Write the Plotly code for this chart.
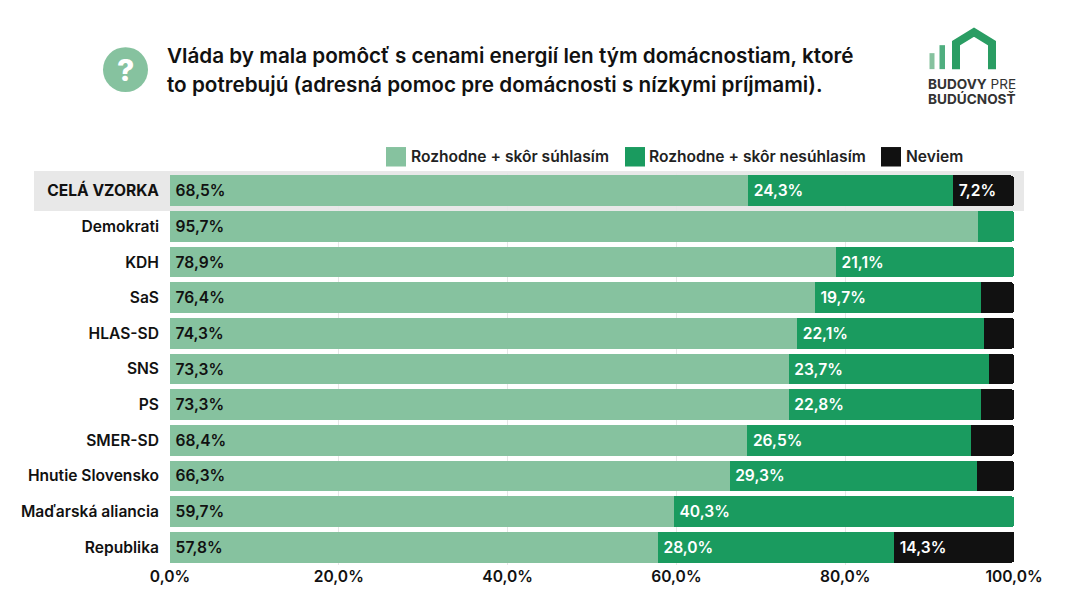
import plotly.graph_objects as go

categories = ["CELÁ VZORKA", "Demokrati", "KDH", "SaS", "HLAS-SD", "SNS", "PS", "SMER-SD",
              "Hnutie Slovensko", "Maďarská aliancia", "Republika"]
agree = [68.5, 95.7, 78.9, 76.4, 74.3, 73.3, 73.3, 68.4, 66.3, 59.7, 57.8]
disagree = [24.3, 4.3, 21.1, 19.7, 22.1, 23.7, 22.8, 26.5, 29.3, 40.3, 28.0]
unknown = [7.2, 0, 0, 3.9, 3.6, 3.0, 3.9, 5.1, 4.4, 0, 14.3]
series_names = ["Rozhodne + skôr súhlasím", "Rozhodne + skôr nesúhlasím", "Neviem"]
title_lines = ["Vláda by mala pomôcť s cenami energií len tým domácnostiam, ktoré",
               "to potrebujú (adresná pomoc pre domácnosti s nízkymi príjmami)."]
LIGHT, GREEN, BLACK = "#86C29F", "#1A9B5F", "#111111"
FONT = "Inter"
W, H = 1084, 610
L, R, T, B = 170, 70, 173, 44.5
PW, PH = W - L - R, H - T - B


def px(x):
    return (x - L) / PW


def py(y):
    return (H - B - y) / PH


def labels(values):
    return ["\u2009" + f"{v:.1f}%".replace(".", ",") if v >= 7 else "" for v in values]


fig = go.Figure()
for name, vals, color, tcolor in [(series_names[0], agree, LIGHT, "#111111"),
                                  (series_names[1], disagree, GREEN, "#ffffff"),
                                  (series_names[2], unknown, BLACK, "#ffffff")]:
    fig.add_bar(y=categories, x=vals, name=name, orientation="h", marker=dict(color=color, line_width=0),
                text=labels(vals), textposition="inside", insidetextanchor="start", constraintext="none",
                textangle=0, textfont=dict(family=FONT, size=15.6, color=tcolor, weight=600),
                showlegend=False, cliponaxis=True)

shapes = []


def rect(x0, y0, x1, y1, color, layer="above"):
    shapes.append(dict(type="rect", xref="paper", yref="paper", x0=px(x0), x1=px(x1), y0=py(y0), y1=py(y1),
                       fillcolor=color, line_width=0, layer=layer))


def text(x, y, s, size=14, weight=600, color="#111111", anchor="left"):
    return dict(xref="paper", yref="paper", x=px(x), y=py(y), text=s, showarrow=False, xanchor=anchor,
                yanchor="middle", align=anchor, font=dict(family=FONT, size=size, color=color, weight=weight))


rect(34, 171, 1024, 211, "#E8E8E8", layer="below")
ann = [text(165, 55, title_lines[0], size=20.7), text(165, 84, title_lines[1], size=20.7)]

# legend
for sx, tx, name, color in [(386, 409, series_names[0], LIGHT), (625, 647, series_names[1], GREEN),
                            (881, 904, series_names[2], BLACK)]:
    rect(sx, 147, sx + 20, 166.5, color)
    ann.append(text(tx, 156, name, size=15.6, color="#222222"))

# question icon
shapes.append(dict(type="circle", xref="paper", yref="paper", x0=px(103), x1=px(148), y0=py(47), y1=py(92),
                   fillcolor=LIGHT, line_width=0))
ann.append(text(125.5, 69.5, "?", size=30, weight=800, color="#ffffff", anchor="center"))

# logo
rect(929.5, 53, 934.5, 69, "#86C29F")
rect(939.5, 45, 945, 69, "#4FAE7F")
pts = [(956, 69), (956, 43), (974, 32), (992, 43), (992, 69)]
shapes.append(dict(type="path", xref="paper", yref="paper",
                   path="M" + " L".join(f"{px(x):.5f},{py(y):.5f}" for x, y in pts),
                   line=dict(color="#2A9D63", width=8), fillcolor="rgba(0,0,0,0)"))
ann.append(text(926, 84, "<b>BUDOVY</b> PRE", size=13.6, weight=400, color="#333333"))
ann.append(text(926, 99, "<b>BUDÚCNOSŤ</b>", size=13.6, weight=400, color="#333333"))

fig.update_layout(
    width=W, height=H, barmode="stack", bargap=0.14, barcornerradius=3,
    margin=dict(l=L, r=R, t=T, b=B, pad=0), paper_bgcolor="#ffffff", plot_bgcolor="#ffffff",
    separators=", ", shapes=shapes, annotations=ann, showlegend=False,
    font=dict(family=FONT, color="#111111"),
    xaxis=dict(range=[0, 100], tick0=0, dtick=20, tickformat=".1f", ticksuffix="%", showgrid=True,
               gridcolor="#E6E6E6", gridwidth=1, zeroline=False, showline=False,
               tickfont=dict(family=FONT, size=15.6, color="#111111", weight=600)),
    yaxis=dict(autorange="reversed", categoryorder="array", categoryarray=categories, showgrid=False,
               ticks="", showline=False, ticklabelstandoff=10,
               tickmode="array", tickvals=categories,
               ticktext=[f"<b>{c}</b>" if i == 0 else c for i, c in enumerate(categories)],
               tickfont=dict(family=FONT, size=15.6, color="#111111", weight=600)),
)
fig.write_html("out.html", post_script="document.body.style.margin='0';", config={"displayModeBar": False})
